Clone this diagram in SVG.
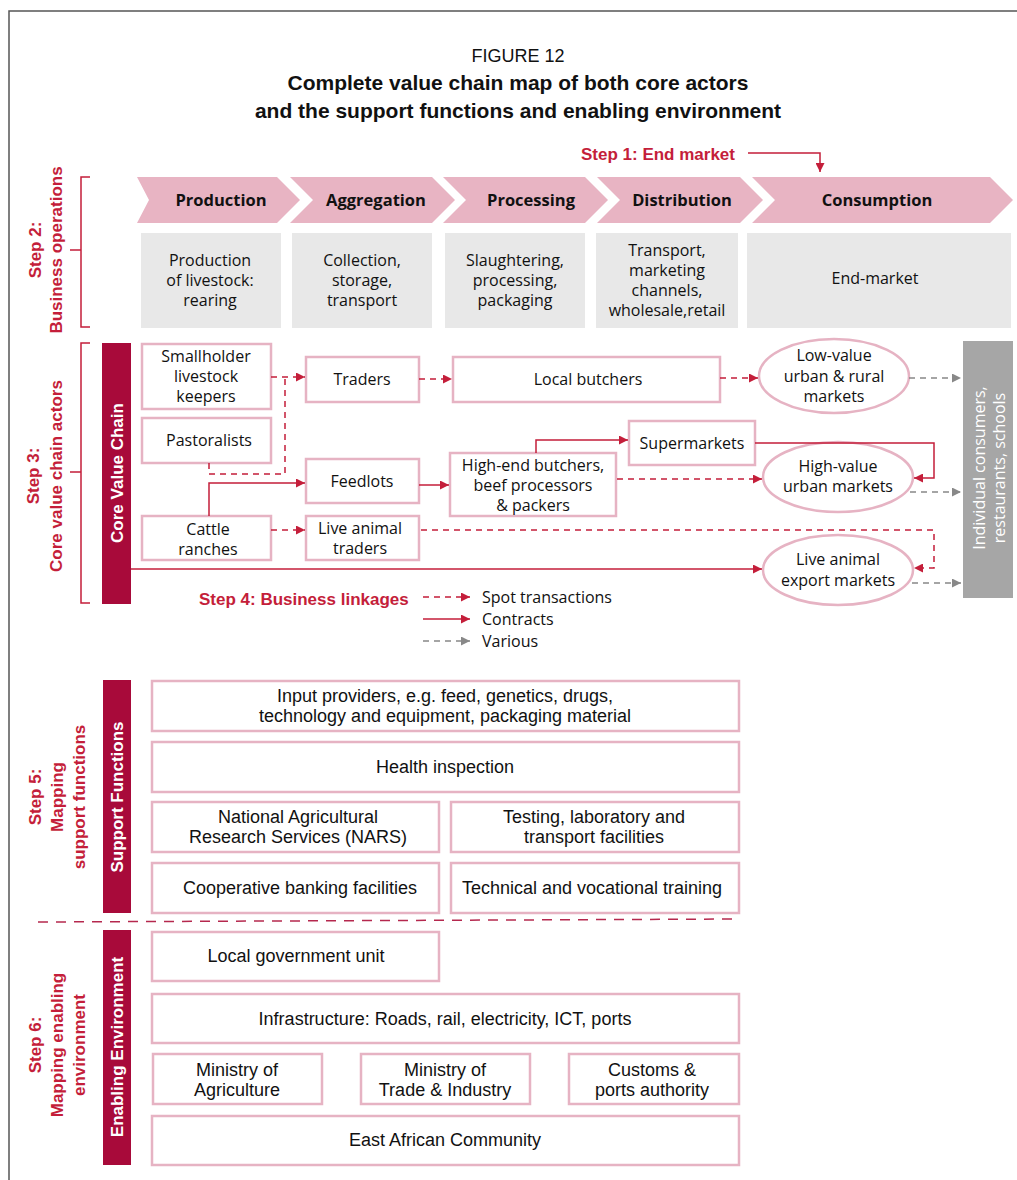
<svg xmlns="http://www.w3.org/2000/svg" width="1017" height="1180" viewBox="0 0 1017 1180">
<style>
text{font-family:"Liberation Sans","DejaVu Sans",sans-serif;fill:#111}
.t{font-family:"Open Sans","Liberation Sans",sans-serif;font-size:16px;text-anchor:middle}
.lg{font-family:"Open Sans","Liberation Sans",sans-serif;font-size:16px}
.tb{font-family:"Open Sans","Liberation Sans",sans-serif;font-size:16.5px;font-weight:bold;text-anchor:middle}
.red{fill:#c41e3a;font-weight:bold;font-size:17px}
.box{fill:#fff;stroke:#e6b3c3;stroke-width:2.5}
.chev{fill:#e8b4c3}
.gray{fill:#e8e8e8}
.bar{fill:#a80a3a}
.bartxt{fill:#fff;font-weight:bold;font-size:17px;text-anchor:middle}
.brk{fill:none;stroke:#c41e3a;stroke-width:1.5}
.spot{fill:none;stroke:#c41e3a;stroke-width:1.5;stroke-dasharray:6 5}
.con{fill:none;stroke:#c41e3a;stroke-width:1.5}
.var{fill:none;stroke:#888;stroke-width:1.5;stroke-dasharray:6 5}
.ell{fill:#fff;stroke:#e6b3c3;stroke-width:2.5}
.sf{font-size:18px;text-anchor:middle}
</style>
<defs>
<marker id="ar" viewBox="0 0 10 10" refX="10" refY="5" markerWidth="9" markerHeight="9" markerUnits="userSpaceOnUse" orient="auto"><path d="M0,0 L10,5 L0,10 z" fill="#c41e3a"/></marker>
<marker id="ag" viewBox="0 0 10 10" refX="10" refY="5" markerWidth="9" markerHeight="9" markerUnits="userSpaceOnUse" orient="auto"><path d="M0,0 L10,5 L0,10 z" fill="#888"/></marker>
</defs>
<rect width="1017" height="1180" fill="#fff"/>
<path d="M9,1180 V11 H1017" fill="none" stroke="#555" stroke-width="1.5"/>

<g id="title">
<text x="518" y="62" style="font-size:18px;text-anchor:middle">FIGURE 12</text>
<text x="518" y="90" style="font-size:21px;font-weight:bold;text-anchor:middle">Complete value chain map of both core actors</text>
<text x="518" y="118" style="font-size:21px;font-weight:bold;text-anchor:middle">and the support functions and enabling environment</text>
</g>

<g id="step1">
<text x="581" y="160" class="red">Step 1: End market</text>
</g>

<g id="chevrons">
<g id="ch-production"><path class="chev" d="M137,177 H277 L300,200 L277,223 H137 L149,200 Z"/><text x="221" y="206" class="tb">Production</text></g>
<g id="ch-aggregation"><path class="chev" d="M290,177 H432 L455,200 L432,223 H290 L313,200 Z"/><text x="376" y="206" class="tb">Aggregation</text></g>
<g id="ch-processing"><path class="chev" d="M443,177 H585 L608,200 L585,223 H443 L466,200 Z"/><text x="531" y="206" class="tb">Processing</text></g>
<g id="ch-distribution"><path class="chev" d="M597,177 H740 L763,200 L740,223 H597 L620,200 Z"/><text x="682" y="206" class="tb">Distribution</text></g>
<g id="ch-consumption"><path class="chev" d="M752,177 H990 L1013,200 L990,223 H752 L775,200 Z"/><text x="877" y="206" class="tb">Consumption</text></g>
</g>

<g id="operations">
<g id="op1"><rect class="gray" x="141" y="233" width="140" height="95"/><text class="t" x="210" y="266">Production</text><text class="t" x="210" y="286">of livestock:</text><text class="t" x="210" y="306">rearing</text></g>
<g id="op2"><rect class="gray" x="292" y="233" width="140" height="95"/><text class="t" x="362" y="266">Collection,</text><text class="t" x="362" y="286">storage,</text><text class="t" x="362" y="306">transport</text></g>
<g id="op3"><rect class="gray" x="445" y="233" width="140" height="95"/><text class="t" x="515" y="266">Slaughtering,</text><text class="t" x="515" y="286">processing,</text><text class="t" x="515" y="306">packaging</text></g>
<g id="op4"><rect class="gray" x="596" y="233" width="142" height="95"/><text class="t" x="667" y="255.5">Transport,</text><text class="t" x="667" y="275.5">marketing</text><text class="t" x="667" y="295.5">channels,</text><text class="t" x="667" y="315.5">wholesale,retail</text></g>
<g id="op5"><rect class="gray" x="747" y="233" width="264" height="95"/><text class="t" x="875" y="284">End-market</text></g>
</g>

<g id="brackets">
<path class="brk" d="M90,177 H81 V327 H90 M70,250 H81"/>
<path class="brk" d="M90,343 H81 V603 H90 M70,472 H81"/>
<text transform="translate(41,250) rotate(-90)" class="red" style="text-anchor:middle">Step 2:</text>
<text transform="translate(62,250) rotate(-90)" class="red" style="text-anchor:middle">Business operations</text>
<text transform="translate(39,476) rotate(-90)" class="red" style="text-anchor:middle">Step 3:</text>
<text transform="translate(62,476) rotate(-90)" class="red" style="text-anchor:middle">Core value chain actors</text>
</g>

<g id="core-bar"><rect class="bar" x="102" y="343" width="29" height="261"/><text transform="translate(123,473) rotate(-90)" class="bartxt">Core Value Chain</text></g>

<g id="smallholder"><rect class="box" x="142" y="344" width="129" height="65"/><text class="t" x="206" y="361.5">Smallholder</text><text class="t" x="206" y="381.5">livestock</text><text class="t" x="206" y="401.5">keepers</text></g>
<g id="pastoralists"><rect class="box" x="142" y="418" width="129" height="45"/><text class="t" x="209" y="446">Pastoralists</text></g>
<g id="cattle"><rect class="box" x="142" y="516" width="129" height="44"/><text class="t" x="208" y="535">Cattle</text><text class="t" x="208" y="555">ranches</text></g>
<g id="traders"><rect class="box" x="306" y="357" width="113" height="45"/><text class="t" x="362" y="385">Traders</text></g>
<g id="feedlots"><rect class="box" x="306" y="459" width="113" height="44"/><text class="t" x="362" y="487">Feedlots</text></g>
<g id="live-traders"><rect class="box" x="306" y="516" width="113" height="44"/><text class="t" x="360" y="534">Live animal</text><text class="t" x="360" y="554">traders</text></g>
<g id="local-butchers"><rect class="box" x="453" y="357" width="267" height="45"/><text class="t" x="588" y="385">Local butchers</text></g>
<g id="highend"><rect class="box" x="450" y="453" width="166" height="63"/><text class="t" x="533" y="470.5">High-end butchers,</text><text class="t" x="533" y="490.5">beef processors</text><text class="t" x="533" y="510.5">&amp; packers</text></g>
<g id="supermarkets"><rect class="box" x="629" y="421" width="126" height="44"/><text class="t" x="692" y="449">Supermarkets</text></g>
<g id="lowvalue"><ellipse class="ell" cx="834" cy="376" rx="75" ry="37"/><text class="t" x="834" y="361">Low-value</text><text class="t" x="834" y="382">urban &amp; rural</text><text class="t" x="834" y="402">markets</text></g>
<g id="highvalue"><ellipse class="ell" cx="838" cy="477" rx="75" ry="35"/><text class="t" x="838" y="472">High-value</text><text class="t" x="838" y="492">urban markets</text></g>
<g id="export"><ellipse class="ell" cx="838" cy="570" rx="75" ry="35"/><text class="t" x="838" y="565">Live animal</text><text class="t" x="838" y="586">export markets</text></g>
<g id="consumers"><rect x="963" y="341" width="50" height="257" fill="#a6a6a6"/><text transform="translate(985,468) rotate(-90)" class="t" style="fill:#fff">Individual consumers,</text><text transform="translate(1005,468) rotate(-90)" class="t" style="fill:#fff">restaurants, schools</text></g>

<g id="connectors">
<path class="con" d="M748,153 H820 V172" marker-end="url(#ar)"/>
<path class="spot" d="M271,377 H305" marker-end="url(#ar)"/>
<path class="spot" d="M209,463 V474 H285 V378"/>
<path class="spot" d="M419,379 H452" marker-end="url(#ar)"/>
<path class="spot" d="M720,378 H758" marker-end="url(#ar)"/>
<path class="var" d="M909,378 H961" marker-end="url(#ag)"/>
<path class="con" d="M209,516 V483 H305" marker-end="url(#ar)"/>
<path class="con" d="M419,485 H449" marker-end="url(#ar)"/>
<path class="con" d="M536,453 V440 H628" marker-end="url(#ar)"/>
<path class="con" d="M755,443 H934 V478 H914" marker-end="url(#ar)"/>
<path class="spot" d="M617,479 H762" marker-end="url(#ar)"/>
<path class="var" d="M910,492 H961" marker-end="url(#ag)"/>
<path class="spot" d="M271,530 H305" marker-end="url(#ar)"/>
<path class="spot" d="M421,530 H934 V568 H914" marker-end="url(#ar)"/>
<path class="con" d="M131,569 H762" marker-end="url(#ar)"/>
<path class="var" d="M912,583 H961" marker-end="url(#ag)"/>
</g>

<g id="legend">
<text x="199" y="605" class="red">Step 4: Business linkages</text>
<path class="spot" d="M423,597 H470" marker-end="url(#ar)"/>
<path class="con" d="M423,619 H470" marker-end="url(#ar)"/>
<path class="var" d="M423,641 H470" marker-end="url(#ag)"/>
<text x="482" y="603" class="lg">Spot transactions</text>
<text x="482" y="625" class="lg">Contracts</text>
<text x="482" y="647" class="lg">Various</text>
</g>

<g id="support">
<text transform="translate(41,797) rotate(-90)" class="red" style="text-anchor:middle">Step 5:</text>
<text transform="translate(63,797) rotate(-90)" class="red" style="text-anchor:middle">Mapping</text>
<text transform="translate(85,797) rotate(-90)" class="red" style="text-anchor:middle">support functions</text>
<rect class="bar" x="103" y="680" width="28" height="233"/><text transform="translate(123,797) rotate(-90)" class="bartxt">Support Functions</text>
<g id="sf-input"><rect class="box" x="152" y="681" width="587" height="50"/><text class="sf" x="445" y="702">Input providers, e.g. feed, genetics, drugs,</text><text class="sf" x="445" y="722">technology and equipment, packaging material</text></g>
<g id="sf-health"><rect class="box" x="152" y="742" width="587" height="50"/><text class="sf" x="445" y="773">Health inspection</text></g>
<g id="sf-nars"><rect class="box" x="152" y="802" width="287" height="50"/><text class="sf" x="298" y="823">National Agricultural</text><text class="sf" x="298" y="843">Research Services (NARS)</text></g>
<g id="sf-testing"><rect class="box" x="451" y="802" width="288" height="50"/><text class="sf" x="594" y="823">Testing, laboratory and</text><text class="sf" x="594" y="843">transport facilities</text></g>
<g id="sf-bank"><rect class="box" x="152" y="863" width="287" height="50"/><text class="sf" x="300" y="894">Cooperative banking facilities</text></g>
<g id="sf-training"><rect class="box" x="451" y="863" width="288" height="50"/><text class="sf" x="592" y="894">Technical and vocational training</text></g>
</g>

<path d="M38,922 L739,919" fill="none" stroke="#b5284e" stroke-width="1.5" stroke-dasharray="10 8"/>

<g id="enabling">
<text transform="translate(41,1045) rotate(-90)" class="red" style="text-anchor:middle">Step 6:</text>
<text transform="translate(63,1045) rotate(-90)" class="red" style="text-anchor:middle">Mapping enabling</text>
<text transform="translate(85,1045) rotate(-90)" class="red" style="text-anchor:middle">environment</text>
<rect class="bar" x="103" y="930" width="28" height="235"/><text transform="translate(123,1047) rotate(-90)" class="bartxt">Enabling Environment</text>
<g id="ee-local"><rect class="box" x="152" y="932" width="287" height="49"/><text class="sf" x="296" y="962">Local government unit</text></g>
<g id="ee-infra"><rect class="box" x="152" y="994" width="587" height="49"/><text class="sf" x="445" y="1025">Infrastructure: Roads, rail, electricity, ICT, ports</text></g>
<g id="ee-agri"><rect class="box" x="153" y="1054" width="169" height="50"/><text class="sf" x="237" y="1076">Ministry of</text><text class="sf" x="237" y="1096">Agriculture</text></g>
<g id="ee-trade"><rect class="box" x="361" y="1054" width="169" height="50"/><text class="sf" x="445" y="1076">Ministry of</text><text class="sf" x="445" y="1096">Trade &amp; Industry</text></g>
<g id="ee-customs"><rect class="box" x="569" y="1054" width="170" height="50"/><text class="sf" x="652" y="1076">Customs &amp;</text><text class="sf" x="652" y="1096">ports authority</text></g>
<g id="ee-eac"><rect class="box" x="152" y="1116" width="587" height="49"/><text class="sf" x="445" y="1146">East African Community</text></g>
</g>
</svg>
